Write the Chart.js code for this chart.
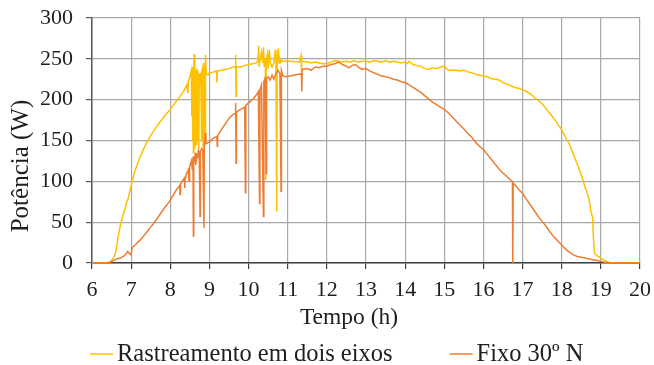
<!DOCTYPE html>
<html lang="pt">
<head>
<meta charset="utf-8">
<title>Potência ao longo do dia</title>
<script src="https://cdn.jsdelivr.net/npm/chart.js@4.4.1/dist/chart.umd.min.js"></script>
<style>
  html, body { margin: 0; padding: 0; background: #ffffff; }
  #caixa { width: 654px; height: 365px; }
</style>
</head>
<body>
<div id="caixa"><canvas id="grafico" width="654" height="365"></canvas></div>
<script>
// Séries (hora do dia, potência em W)
const rotuloRastreamento = 'Rastreamento em dois eixos';
const horasRastreamento = [
  6.00, 6.30, 6.45, 6.52, 6.59, 6.63, 6.67, 6.72, 6.76, 6.80, 6.84, 6.89, 6.93, 7.00, 7.08, 7.15,
  7.23, 7.33, 7.44, 7.55, 7.65, 7.74, 7.87, 8.00, 8.12, 8.25, 8.35, 8.42, 8.45, 8.46, 8.50,
  8.52, 8.54, 8.55, 8.56, 8.57, 8.58, 8.59, 8.60, 8.61, 8.62, 8.63, 8.64, 8.65, 8.66, 8.67, 8.68,
  8.69, 8.70, 8.72, 8.73, 8.74, 8.76, 8.78, 8.80, 8.81, 8.83, 8.84, 8.85, 8.86, 8.87, 8.89, 8.90,
  8.92, 8.96, 9.00, 9.05, 9.10, 9.18, 9.19, 9.20, 9.30, 9.40, 9.50, 9.60, 9.66, 9.67, 9.68, 9.69,
  9.80, 9.90, 10.00, 10.10, 10.20, 10.24, 10.26, 10.27, 10.30, 10.33, 10.36, 10.38, 10.40, 10.43,
  10.44, 10.45, 10.48, 10.50, 10.53, 10.56, 10.60, 10.65, 10.68, 10.70, 10.72, 10.73, 10.76, 10.78,
  10.80, 10.83, 10.86, 10.90, 11.00, 11.10, 11.20, 11.30, 11.34, 11.35, 11.36, 11.50, 11.60, 11.70,
  11.80, 11.90, 12.00, 12.10, 12.20, 12.30, 12.40, 12.50, 12.60, 12.70, 12.80, 12.90, 13.00, 13.10,
  13.20, 13.30, 13.40, 13.50, 13.60, 13.70, 13.80, 13.90, 14.00, 14.05, 14.10, 14.20, 14.30, 14.40,
  14.50, 14.60, 14.70, 14.80, 14.90, 15.00, 15.10, 15.20, 15.30, 15.40, 15.50, 15.60, 15.70, 15.80,
  15.90, 16.00, 16.10, 16.20, 16.30, 16.40, 16.50, 16.60, 16.70, 16.80, 16.90, 17.00, 17.10, 17.20,
  17.30, 17.40, 17.50, 17.60, 17.70, 17.80, 17.90, 18.00, 18.10, 18.20, 18.30, 18.40, 18.50, 18.60,
  18.65, 18.70, 18.75, 18.79, 18.81, 18.84, 18.90, 19.00, 19.10, 19.20, 19.30, 20.00
];
const potenciaRastreamento = [
  0, 0, 1, 4, 10, 20, 33, 45, 53, 60, 66, 75, 80, 95, 110, 120,
  130, 141, 151, 160, 167, 173, 181, 188, 196, 204, 211, 218, 208, 222, 228,
  232, 236, 180, 238, 150, 240, 135, 238, 256, 236, 140, 232, 235, 145, 238, 230,
  150, 236, 228, 140, 232, 220, 233, 150, 236, 240, 135, 245, 240, 238, 150, 255,
  232, 230, 233, 233, 234, 235, 221, 235, 236, 237, 238, 240, 240, 255, 204, 240,
  240, 242, 243, 244, 245, 248, 266, 240, 250, 258, 245, 264, 240, 250,
  102, 248, 256, 238, 261, 244, 240, 245, 261, 246, 63, 250, 263, 245,
  250, 246, 248, 247, 247, 247, 246, 246, 254, 233, 247, 246, 245, 246,
  245, 244, 244, 246, 248, 247, 246, 247, 246, 248, 246, 247, 247, 246,
  248, 247, 246, 248, 246, 247, 246, 245, 246, 244, 247, 243, 242, 241,
  238, 237, 239, 238, 240, 241, 236, 236, 236, 235, 236, 234, 233, 231,
  230, 229, 228, 226, 225, 224, 221, 219, 217, 215, 214, 212, 210, 207,
  203, 199, 195, 189, 183, 177, 170, 163, 154, 145, 133, 121, 108, 92,
  86, 78, 62, 56, 30, 12, 9, 6, 3, 1, 0, 0
];

const rotuloFixo = 'Fixo 30º N';
const horasFixo = [
  6.00, 6.35, 6.45, 6.55, 6.63, 6.72, 6.80, 6.87, 6.91, 6.95, 6.99, 7.03, 7.10, 7.23, 7.35, 7.48,
  7.57, 7.70, 7.80, 7.91, 8.00, 8.10, 8.16, 8.20, 8.24, 8.25, 8.26, 8.30, 8.36, 8.37, 8.38, 8.40,
  8.46, 8.48, 8.49, 8.50, 8.54, 8.56, 8.58, 8.59, 8.60, 8.62, 8.64, 8.65, 8.68, 8.70, 8.72, 8.74,
  8.76, 8.77, 8.80, 8.83, 8.86, 8.87, 8.90, 8.91, 8.95, 9.00, 9.05, 9.10, 9.19, 9.20, 9.21, 9.30,
  9.40, 9.50, 9.60, 9.66, 9.67, 9.68, 9.69, 9.80, 9.90, 9.92, 9.93, 10.00, 10.10, 10.20, 10.25,
  10.28, 10.29, 10.33, 10.38, 10.39, 10.42, 10.45, 10.46, 10.50, 10.55, 10.60, 10.65, 10.70, 10.75,
  10.80, 10.83, 10.84, 10.88, 10.95, 11.05, 11.15, 11.28, 11.35, 11.36, 11.37, 11.50, 11.60, 11.70,
  11.80, 11.90, 12.00, 12.10, 12.20, 12.30, 12.40, 12.50, 12.56, 12.65, 12.73, 12.80, 12.90, 13.00,
  13.10, 13.20, 13.30, 13.40, 13.50, 13.60, 13.70, 13.80, 13.90, 14.00, 14.10, 14.20, 14.30, 14.40,
  14.50, 14.60, 14.70, 14.80, 14.90, 15.00, 15.10, 15.20, 15.30, 15.40, 15.50, 15.60, 15.70, 15.80,
  15.90, 16.00, 16.10, 16.20, 16.30, 16.40, 16.50, 16.60, 16.70, 16.74, 16.75, 16.76, 16.80, 16.90,
  17.00, 17.10, 17.20, 17.30, 17.40, 17.50, 17.60, 17.70, 17.80, 17.90, 18.00, 18.10, 18.20, 18.30,
  18.40, 18.50, 18.60, 18.70, 18.80, 18.90, 19.00, 19.10, 19.25, 20.00
];
const potenciaFixo = [
  0, 0, 1, 3, 5, 6, 8, 11, 14, 12, 10, 19, 22, 28, 35, 43,
  48, 57, 64, 71, 77, 85, 90, 92, 95, 84, 96, 100, 104, 92, 105, 108,
  114, 100, 116, 118, 125, 115, 130, 33, 128, 126, 135, 120, 132, 130, 138, 135,
  57, 137, 140, 138, 43, 145, 159, 146, 147, 148, 151, 153, 155, 143, 156, 163,
  170, 177, 182, 183, 196, 122, 185, 188, 191, 86, 193, 196, 200, 206, 210,
  73, 212, 218, 57, 222, 226, 110, 226, 228, 224, 230, 225, 232, 236,
  232, 88, 236, 229, 228, 229, 230, 231, 232, 210, 237, 238, 236, 240,
  239, 241, 241, 243, 244, 246, 243, 241, 239, 242, 243, 240, 237, 238,
  235, 233, 231, 229, 228, 227, 225, 224, 222, 221, 218, 215, 212, 209,
  205, 201, 197, 194, 191, 188, 184, 179, 174, 169, 164, 159, 154, 148,
  143, 139, 133, 127, 121, 115, 110, 106, 101, 100, 0, 98, 96, 90,
  85, 78, 71, 64, 57, 51, 45, 38, 32, 27, 22, 17, 13, 10,
  8, 7, 6, 5, 4, 3, 2, 1, 0, 0
];

// Eixos
const limitesX = [6, 20];
const limitesY = [0, 300];
const passoX = 1;
const passoY = 50;
const tituloX = 'Tempo (h)';
const tituloY = 'Potência (W)';

const corRastreamento = '#FFC000';
const corFixo = '#ED7D31';
const corTexto = '#1f1f1f';
const corGrade = '#a8a8a8';
const fonte = '"Liberation Serif", "Times New Roman", serif';

// Junta horas e potências em pontos {x, y}
function pontos(horas, valores) {
  return horas.map((h, i) => ({ x: h, y: valores[i] }));
}

// Títulos dos eixos e legenda desenhados à mão (posições como no original)
const rotulos = {
  id: 'rotulos',
  afterDraw(chart) {
    const ctx = chart.ctx;
    ctx.save();
    ctx.fillStyle = corTexto;
    ctx.textBaseline = 'alphabetic';

    // título do eixo X
    ctx.font = '23.5px ' + fonte;
    ctx.textAlign = 'center';
    ctx.fillText(tituloX, 349, 324);

    // título do eixo Y (rodado)
    ctx.save();
    ctx.font = '25px ' + fonte;
    ctx.translate(28, 166);
    ctx.rotate(-Math.PI / 2);
    ctx.fillText(tituloY, 0, 0);
    ctx.restore();

    // legenda
    ctx.font = '24.5px ' + fonte;
    ctx.textAlign = 'left';
    let x = 90;
    const yLinha = 354;
    chart.data.datasets.forEach(ds => {
      ctx.strokeStyle = ds.borderColor;
      ctx.lineWidth = 1.5;
      ctx.beginPath();
      ctx.moveTo(x, yLinha);
      ctx.lineTo(x + 23, yLinha);
      ctx.stroke();
      ctx.fillText(ds.label, x + 27, 361);
      x += 27 + ctx.measureText(ds.label).width + 57;
    });
    ctx.restore();
  }
};

new Chart(document.getElementById('grafico').getContext('2d'), {
  type: 'line',
  data: {
    datasets: [
      {
        label: rotuloRastreamento,
        data: pontos(horasRastreamento, potenciaRastreamento),
        borderColor: corRastreamento,
        backgroundColor: corRastreamento,
        borderWidth: 1.5,
        pointRadius: 0,
        tension: 0,
        order: 2
      },
      {
        label: rotuloFixo,
        data: pontos(horasFixo, potenciaFixo),
        borderColor: corFixo,
        backgroundColor: corFixo,
        borderWidth: 1.5,
        pointRadius: 0,
        tension: 0,
        order: 1
      }
    ]
  },
  options: {
    responsive: false,
    animation: false,
    devicePixelRatio: 1,
    layout: { padding: { left: 0, right: 14, top: 18, bottom: 0 } },
    plugins: {
      legend: { display: false },
      tooltip: { enabled: false }
    },
    scales: {
      x: {
        type: 'linear',
        min: limitesX[0],
        max: limitesX[1],
        afterFit: scale => {
          scale.height = 102;
          scale.paddingLeft = 0;
          scale.paddingRight = 0;
        },
        ticks: {
          stepSize: passoX,
          color: corTexto,
          padding: 8,
          maxRotation: 0,
          font: { family: fonte, size: 22 }
        },
        grid: { color: corGrade, lineWidth: 1.2, tickLength: 6, tickColor: '#404040' },
        border: { color: '#404040', width: 1.5 }
      },
      y: {
        min: limitesY[0],
        max: limitesY[1],
        afterFit: scale => {
          scale.width = 92;
          scale.paddingTop = 0;
          scale.paddingBottom = 0;
        },
        ticks: {
          stepSize: passoY,
          color: corTexto,
          padding: 13,
          font: { family: fonte, size: 22 }
        },
        grid: { color: corGrade, lineWidth: 1.2, tickLength: 6, tickColor: '#595959' },
        border: { color: '#595959', width: 1.5 }
      }
    }
  },
  plugins: [rotulos]
});
</script>
</body>
</html>
